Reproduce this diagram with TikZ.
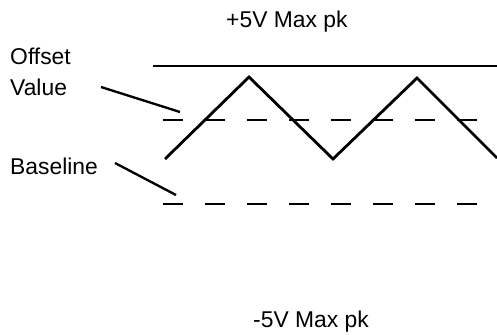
\documentclass[tikz,border=0pt]{standalone}
\usepackage{fontspec}
\setsansfont{Liberation Sans}
\usepackage{tikz}
\usetikzlibrary{positioning, calc}

\begin{document}
\begin{tikzpicture}[x=0.03cm, y=-0.03cm, font=\sffamily\fontsize{19.5}{26.4}\selectfont,
    lbl/.style={inner sep=0pt, align=left},
    dashline/.style={line width=1.7pt, dash pattern=on 0.6cm off 0.66cm},
    pointer/.style={line width=2pt}]
    \useasboundingbox (0,0) rectangle (497,335);

    % Max level line and the wave
    \coordinate (Mx1) at (153,66);
    \coordinate (Mx2) at (497,66);
    \draw[line width=1.7pt] (Mx1) -- (Mx2);

    \coordinate (W0) at (165,159);   % start (low)
    \coordinate (P1) at (249,77);    % first peak
    \coordinate (T1) at (333,159);   % trough
    \coordinate (P2) at (417,78);    % second peak
    \coordinate (W1) at (497,158);   % runs off the right edge
    \draw[line width=2.4pt, line join=miter] (W0) -- (P1) -- (T1) -- (P2) -- (W1);

    % Dashed levels
    \coordinate (Of1) at (163,120);
    \coordinate (Of2) at (480,120);
    \draw[dashline] (Of1) -- (Of2);
    \coordinate (Bs1) at (163,204);
    \coordinate (Bs2) at (480,204);
    \draw[dashline] (Bs1) -- (Bs2);

    % Labels on the left with pointers
    \node[lbl, anchor=base west] (offsetlbl) at (10,95) {Offset\\Value};
    \node[lbl, anchor=base west] (baselbl) at (10,174) {Baseline};
    \coordinate (OfTail) at (101,87);
    \coordinate (OfTip) at (180,112);
    \coordinate (BsTail) at (115,163);
    \coordinate (BsTip) at (176,195);
    \draw[pointer] (OfTail) -- (OfTip);
    \draw[pointer] (BsTail) -- (BsTip);

    % Peak labels
    \node[lbl, anchor=base west] (toplbl) at (226,28) {+5V Max pk};
    \node[lbl, anchor=base west] (botlbl) at (253,327) {-5V Max pk};
\end{tikzpicture}
\end{document}
